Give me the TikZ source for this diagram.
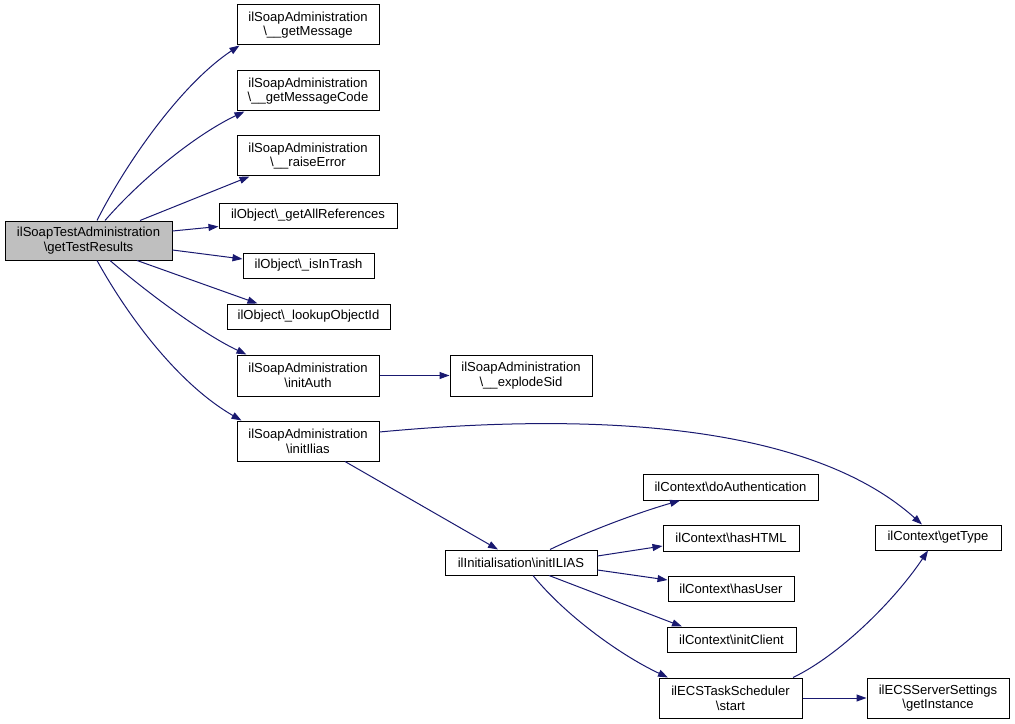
\documentclass[tikz,border=0pt]{standalone}
\usepackage{fontspec}
\setmainfont{Liberation Sans}
\usetikzlibrary{arrows.meta,calc}
\definecolor{edgeblue}{HTML}{191970}
\definecolor{maingray}{HTML}{BFBFBF}
\begin{document}
\begin{tikzpicture}[x=0.75pt,y=-0.75pt,
  box/.style={draw=black,line width=0.75pt,fill=white,inner sep=0pt,align=center,
    font=\fontsize{9.8pt}{11pt}\selectfont},
  mainbox/.style={box,fill=maingray},
  edge/.style={draw=edgeblue,line width=0.75pt,-{Triangle[length=7.5pt,width=5.25pt]}}]
\useasboundingbox (0,0) rectangle (1015,724);
\node[mainbox,minimum width=167*0.75pt,minimum height=39*0.75pt] (main) at (88.5,240.5) {ilSoapTestAdministration\\\textbackslash getTestResults};
\node[box,minimum width=142*0.75pt,minimum height=40*0.75pt] (gm) at (308,25) {ilSoapAdministration\\\textbackslash\_\_getMessage};
\node[box,minimum width=142*0.75pt,minimum height=40*0.75pt] (gmc) at (308,91) {ilSoapAdministration\\\textbackslash\_\_getMessageCode};
\node[box,minimum width=142*0.75pt,minimum height=40*0.75pt] (re) at (308,156) {ilSoapAdministration\\\textbackslash\_\_raiseError};
\node[box,minimum width=178*0.75pt,minimum height=25*0.75pt] (gar) at (308,215.5) {ilObject\textbackslash\_getAllReferences};
\node[box,minimum width=131*0.75pt,minimum height=25*0.75pt] (iit) at (308.5,265.5) {ilObject\textbackslash\_isInTrash};
\node[box,minimum width=163*0.75pt,minimum height=25*0.75pt] (loi) at (308.5,316.5) {ilObject\textbackslash\_lookupObjectId};
\node[box,minimum width=142*0.75pt,minimum height=41*0.75pt] (ia) at (308,375.5) {ilSoapAdministration\\\textbackslash initAuth};
\node[box,minimum width=142*0.75pt,minimum height=41*0.75pt] (es) at (521,375.5) {ilSoapAdministration\\\textbackslash\_\_explodeSid};
\node[box,minimum width=142*0.75pt,minimum height=40*0.75pt] (ii) at (308,441) {ilSoapAdministration\\\textbackslash initIlias};
\node[box,minimum width=152*0.75pt,minimum height=25*0.75pt] (iI) at (521,562.5) {ilInitialisation\textbackslash initILIAS};
\node[box,minimum width=175*0.75pt,minimum height=26*0.75pt] (da) at (730.5,487) {ilContext\textbackslash doAuthentication};
\node[box,minimum width=136*0.75pt,minimum height=26*0.75pt] (hh) at (731,538) {ilContext\textbackslash hasHTML};
\node[box,minimum width=126*0.75pt,minimum height=25*0.75pt] (hu) at (731,588.5) {ilContext\textbackslash hasUser};
\node[box,minimum width=129*0.75pt,minimum height=25*0.75pt] (ic) at (731.5,639.5) {ilContext\textbackslash initClient};
\node[box,minimum width=143*0.75pt,minimum height=40*0.75pt] (st) at (730.5,698) {ilECSTaskScheduler\\\textbackslash start};
\node[box,minimum width=126*0.75pt,minimum height=25*0.75pt] (gt) at (938,537.5) {ilContext\textbackslash getType};
\node[box,minimum width=142*0.75pt,minimum height=40*0.75pt] (gi) at (938,698) {ilECSServerSettings\\\textbackslash getInstance};

\draw[edge] ($(main.north)+(8.5,0)$) .. controls (125,165) and (180,85) .. ($(gm.south west)+(3,0)$);
\draw[edge] ($(main.north)+(16.5,0)$) .. controls (140,180) and (195,135) .. ($(gmc.south west)+(8,0)$);
\draw[edge] ($(main.north)+(51.5,0)$) -- ($(re.south west)+(13,0)$);
\draw[edge] ($(main.east)+(0,-9.5)$) -- ($(gar.south west)+(0,-2)$);
\draw[edge] ($(main.east)+(0,9.5)$) -- ($(iit.west)+(0,-6.5)$);
\draw[edge] ($(main.south)+(48.5,0)$) -- ($(loi.north west)+(31,0)$);
\draw[edge] ($(main.south)+(21.5,0)$) .. controls (150,295) and (205,335) .. ($(ia.north west)+(10,0)$);
\draw[edge] ($(main.south)+(8.5,0)$) .. controls (130,320) and (180,385) .. ($(ii.north west)+(5,0)$);
\draw[edge] (ia.east) -- (es.west);
\draw[edge] ($(ii.east)+(0,-9)$) .. controls (560,415) and (800,415) .. ($(gt.north)+(-16,0)$);
\draw[edge] ($(ii.south)+(37,0)$) -- ($(iI.north)+(-23,0)$);
\draw[edge] ($(iI.north)+(29,0)$) .. controls (580,535) and (630,515) .. ($(da.south)+(-50.5,0)$);
\draw[edge] ($(iI.east)+(0,-6.5)$) -- ($(hh.west)+(0,8)$);
\draw[edge] ($(iI.east)+(0,7.5)$) -- ($(hu.west)+(0,-8.5)$);
\draw[edge] ($(iI.south)+(28,0)$) -- ($(ic.north)+(-49.5,0)$);
\draw[edge] ($(iI.south)+(12,0)$) .. controls (565,615) and (620,655) .. ($(st.north)+(-62.5,0)$);
\draw[edge] ($(st.north)+(62.5,0)$) .. controls (840,655) and (895,600) .. ($(gt.south)+(-10,0)$);
\draw[edge] (st.east) -- (gi.west);
\end{tikzpicture}
\end{document}
